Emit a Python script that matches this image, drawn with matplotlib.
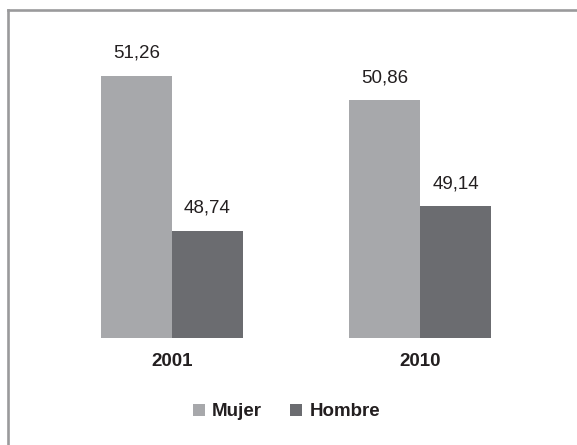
import matplotlib.pyplot as plt
from matplotlib.lines import Line2D
from matplotlib import font_manager

# datos
years = ['2001', '2010']
mujer = [51.26, 50.86]
hombre = [48.74, 49.14]
series_names = ['Mujer', 'Hombre']

color_mujer = '#a7a8ab'
color_hombre = '#6b6c70'

names = {f.name for f in font_manager.fontManager.ttflist}
if 'Liberation Sans Narrow' in names:
  fam = ['Liberation Sans Narrow', 'DejaVu Sans']
  fs_val, fs_year = 14, 14.5
else:
  fam = ['Liberation Sans', 'DejaVu Sans']
  fs_val, fs_year = 13.5, 13.5
plt.rcParams['font.family'] = fam

fig = plt.figure(figsize=(5.77, 4.45), dpi=100)
ax = fig.add_axes([0, (445 - 337.7) / 445, 1, 337.7 / 445])

w = 0.286
x = range(len(years))
b1 = ax.bar([i - w / 2 for i in x], mujer, w, bottom=0, color=color_mujer, label=series_names[0])
b2 = ax.bar([i + w / 2 for i in x], hombre, w, bottom=0, color=color_hombre, label=series_names[1])

ax.set_ylim(47, 47 + 337.7 / 61.5)
ax.set_xlim(-172 / 248, (577 - 172) / 248)

for bars, vals in [(b1, mujer), (b2, hombre)]:
  ax.bar_label(bars, labels=[f'{v:.2f}'.replace('.', ',') for v in vals],
               padding=10, fontsize=fs_val, color='#231f20')

ax.set_xticks(list(x), years)
ax.tick_params(axis='x', length=0, pad=11, labelsize=fs_year, labelcolor='#231f20')
for t in ax.get_xticklabels():
  t.set_fontweight('bold')
ax.set_yticks([])
for s in ax.spines.values():
  s.set_visible(False)
ax.patch.set_alpha(0)

leg = fig.legend(handles=[b1, b2], loc='center', bbox_to_anchor=(0.4965, 1 - 412 / 445),
                 ncol=2, frameon=False, fontsize=fs_year, handlelength=0.62, handleheight=0.62,
                 handletextpad=0.4, columnspacing=1.5)
for t in leg.get_texts():
  t.set_fontweight('bold')
  t.set_color('#231f20')

# marco gris (solo arriba e izquierda)
fig.add_artist(Line2D([7.8 / 577, 7.8 / 577], [0, 1 - 9.5 / 445], color='#9a9a9c', lw=1.9,
                      transform=fig.transFigure, solid_capstyle='projecting'))
fig.add_artist(Line2D([7.8 / 577, 1], [1 - 9.5 / 445, 1 - 9.5 / 445], color='#9a9a9c', lw=1.9,
                      transform=fig.transFigure, solid_capstyle='projecting'))

plt.savefig('out.png', dpi=100)
